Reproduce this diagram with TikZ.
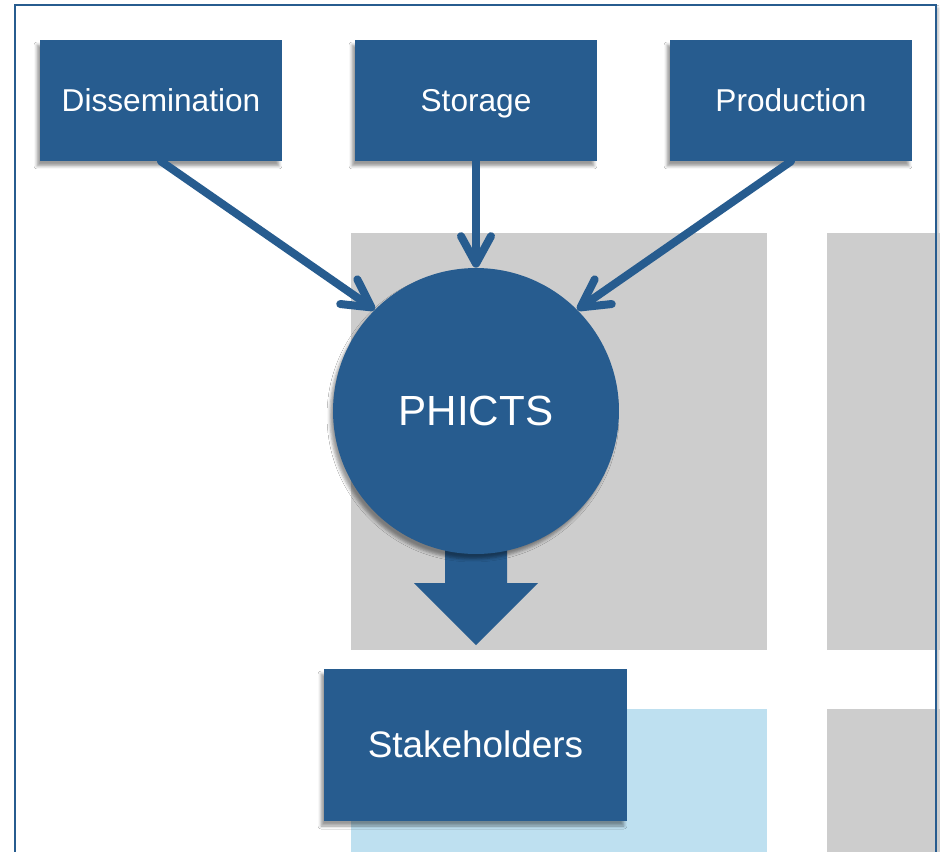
\documentclass[tikz,border=0pt]{standalone}
\usepackage{fontspec}
\setmainfont{Liberation Sans}
\usetikzlibrary{arrows.meta,shadows.blur}
\definecolor{bleu}{HTML}{275C8F}
\definecolor{gris}{HTML}{CDCDCD}
\definecolor{ciel}{HTML}{BEE0F0}
\tikzset{
  ombre/.style={blur shadow={shadow xshift=-0.06cm,shadow yshift=-0.1cm,
                shadow blur radius=0.06cm,shadow opacity=40}},
  bloc/.style={rectangle,fill=bleu,text=white,ombre,
               minimum width=4.84cm,minimum height=2.42cm,
               text height=12.5pt,text depth=0pt,
               font=\fontsize{18}{21}\selectfont},
  fleche/.style={draw=bleu,line width=0.16cm,line cap=round,
                 -{Straight Barb[round,length=0.55cm,width=0.6cm]}}
}
\begin{document}
\begin{tikzpicture}[x=0.02cm,y=-0.02cm]
\clip (0,0) rectangle (940,852);
\fill[white] (0,0) rectangle (940,852);
% cadre
\fill[white,blur shadow={shadow xshift=0.04cm,shadow yshift=-0.06cm,
      shadow blur radius=0.05cm,shadow opacity=30}] (15,5) rectangle (936,900);
% fond
\fill[gris] (351,233) rectangle (767,650);
\fill[gris] (827,233) rectangle (960,650);
\fill[gris] (827,709) rectangle (960,900);
\fill[ciel] (351,709) rectangle (767,900);
\draw[bleu,line width=0.055cm] (15,5) rectangle (936,900);
% grosse fleche
\fill[bleu] (445,530) -- (445,583) -- (414,583) -- (476,645)
            -- (538,583) -- (507,583) -- (507,530) -- cycle;
\node[bloc] (diss) at (161,100.5) {Dissemination};
\node[bloc] (stock) at (476,100.5) {Storage};
\node[bloc] (prod) at (791,100.5) {Production};
\node[circle,fill=bleu,text=white,ombre,minimum size=5.72cm,inner sep=0pt,
      font=\fontsize{24}{28}\selectfont] (phicts) at (476,411) {PHICTS};
\node[bloc,minimum width=6.06cm,minimum height=3.04cm,text height=14.5pt,
      font=\fontsize{21}{25}\selectfont] (acteurs) at (475.5,745) {Stakeholders};
\draw[fleche] (diss.south) -- (phicts.135);
\draw[fleche] (stock.south) -- (phicts.north);
\draw[fleche] (prod.south) -- (phicts.45);
\end{tikzpicture}
\end{document}
